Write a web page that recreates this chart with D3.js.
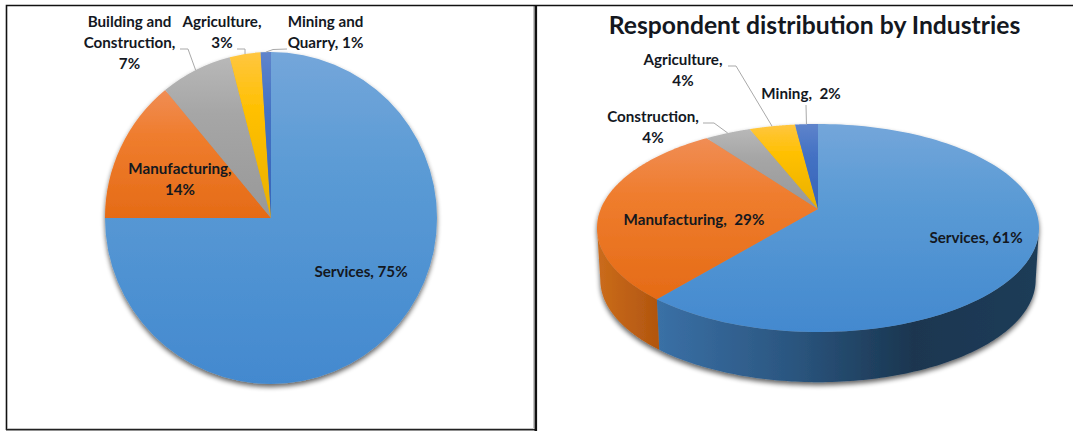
<!DOCTYPE html>
<html>
<head>
<meta charset="utf-8">
<script src="https://cdn.jsdelivr.net/npm/d3@7"></script>
<style>
html,body{margin:0;padding:0;background:#fff;overflow:hidden}
svg{display:block}
text{font-family:Lato,"Open Sans",sans-serif;font-weight:700;fill:#14181f;white-space:pre}
</style>
</head>
<body>
<svg id="chart" width="1073" height="431"></svg>
<script>
// Industry shares, clockwise from twelve o'clock
const flatCategories = ["Services", "Manufacturing", "Building and Construction", "Agriculture", "Mining and Quarry"];
const flatValues = [75, 14, 7, 3, 1];
const tiltedCategories = ["Services", "Manufacturing", "Construction", "Agriculture", "Mining"];
const tiltedValues = [61, 29, 4, 4, 2];
const tiltedTitle = "Respondent distribution by Industries";

// Gradient stops per slice: light top, base, dark bottom
const shades = [
  ["#74a6da", "#5b9bd5", "#4389cf"],
  ["#f08d55", "#ef7d2e", "#e56b16"],
  ["#b8b8b8", "#a6a6a6", "#989898"],
  ["#ffc640", "#ffc000", "#e9b000"],
  ["#5f84cb", "#4472c4", "#3764b8"]
];
// Side wall shading, written in screen order from left to right
const wallStops = [
  [[0, "#3a70a6"], [0.35, "#2b5680"], [0.67, "#1a3650"], [1, "#1f3c58"]],
  [[0, "#cb6c1b"], [1, "#b2560f"]]
];

// Label placement: text lines, anchor point, and the elbow of any leader line
const flatLabels = [
  {lines: ["Services, 75%"], x: 361, y: 277},
  {lines: ["Manufacturing,", "14%"], x: 180, y: 174},
  {lines: ["Building and", "Construction,", "7%"], x: 129.5, y: 27, leader: [[180, 49], [188, 49]]},
  {lines: ["Agriculture,", "3%"], x: 222, y: 27, leader: [[237, 49], [245, 49]]},
  {lines: ["Mining and", "Quarry, 1%"], x: 325.5, y: 27, leader: [[287, 49], [273, 49.5]]}
];
const tiltedLabels = [
  {lines: ["Services, 61%"], x: 976, y: 243},
  {lines: ["Manufacturing,  29%"], x: 694, y: 225},
  {lines: ["Construction,", "4%"], x: 653, y: 122, leader: [[703, 123], [714, 123]]},
  {lines: ["Agriculture,", "4%"], x: 683, y: 65, leader: [[728, 66], [736, 66]]},
  {lines: ["Mining,  2%"], x: 801, y: 99, leader: [[806, 105]]}
];

const svg = d3.select("#chart");
const defs = svg.append("defs");

function addSliceGradient(id, stops) {
  const g = defs.append("linearGradient").attr("id", id)
    .attr("x1", 0).attr("y1", 0).attr("x2", 0).attr("y2", 1);
  [0, 0.35, 1].forEach((o, i) => g.append("stop").attr("offset", o).attr("stop-color", stops[i]));
}
shades.forEach((s, i) => addSliceGradient("slice" + i, s));

const shadow = defs.append("filter").attr("id", "pieShadow")
  .attr("x", "-10%").attr("y", "-10%").attr("width", "120%").attr("height", "125%");
shadow.append("feGaussianBlur").attr("in", "SourceAlpha").attr("stdDeviation", 2.6).attr("result", "b");
shadow.append("feOffset").attr("in", "b").attr("dy", 3).attr("result", "o");
shadow.append("feComponentTransfer").attr("in", "o").attr("result", "s")
  .append("feFuncA").attr("type", "linear").attr("slope", 0.62);
const merge = shadow.append("feMerge");
merge.append("feMergeNode").attr("in", "s");
merge.append("feMergeNode").attr("in", "SourceGraphic");

const pieLayout = d3.pie().sort(null).value(d => d);

// Panel frames
const frame = svg.append("g");
frame.append("path").attr("d", "M7.5 428.5H533.5V6").attr("fill", "none").attr("stroke", "#c4c4c4").attr("stroke-width", 1);
frame.append("path").attr("d", "M6.5 430V5.5H1073").attr("fill", "none").attr("stroke", "#111").attr("stroke-width", 1.6);
frame.append("path").attr("d", "M6 429.7H536").attr("fill", "none").attr("stroke", "#222").attr("stroke-width", 1.6);
frame.append("path").attr("d", "M535.8 5V431").attr("fill", "none").attr("stroke", "#111").attr("stroke-width", 2.6);

function drawLabels(g, labels, size, anchors) {
  labels.forEach((l, i) => {
    if (l.leader) {
      g.append("path")
        .attr("d", d3.line()(l.leader.concat([anchors[i]])))
        .attr("fill", "none").attr("stroke", "#a9a9a9").attr("stroke-width", 1);
    }
    const t = g.append("text").attr("text-anchor", "middle").attr("font-size", size);
    l.lines.forEach((line, k) => {
      t.append("tspan").attr("x", l.x).attr("y", l.y + k * 21).text(line);
    });
  });
}

// Flat pie
{
  const cx = 271, cy = 218, r = 166;
  const arcs = pieLayout(flatValues);
  const arc = d3.arc().innerRadius(0).outerRadius(r);
  const g = svg.append("g").attr("transform", `translate(${cx},${cy})`);
  const slices = g.append("g").attr("filter", "url(#pieShadow)");
  slices.selectAll("path").data(arcs).join("path")
    .attr("d", arc)
    .attr("data-category", (d, i) => flatCategories[i])
    .attr("fill", (d, i) => `url(#slice${i})`);
  const anchors = arcs.map(a => {
    const m = (a.startAngle + a.endAngle) / 2;
    return [cx + Math.sin(m) * r, cy - Math.cos(m) * r];
  });
  drawLabels(svg.append("g"), flatLabels, 15.2, anchors);
}

// Tilted pie: a perspective projection of the unit circle, so the hub sits above the rim's centre
{
  const apexX = 818, apexY = 209;
  const backDepth = 85, frontDepth = 123, halfWidth = 221, wallDrop = 52, wallScale = 0.985;
  const c = (backDepth - frontDepth) / (backDepth + frontDepth);
  const a = frontDepth * (1 + c);
  const d = halfWidth * Math.sqrt(1 - c * c);
  const project = theta => {
    const u = Math.sin(theta), v = -Math.cos(theta);
    const w = 1 + c * v;
    return [u * d / w, a * v / w];
  };
  const rimSpan = (t0, t1) => d3.range(0, 121).map(i => t0 + (t1 - t0) * i / 120);
  const lower = t => {
    const p = project(t);
    return [p[0] * wallScale, p[1] * wallScale + wallDrop];
  };
  const line = d3.line();
  const arcs = pieLayout(tiltedValues);
  const g = svg.append("g").attr("transform", `translate(${apexX},${apexY})`);
  const whole = g.append("g").attr("filter", "url(#pieShadow)");

  // Side wall, only along the part of the rim that faces the viewer
  const frontStart = Math.acos(c), frontEnd = 2 * Math.PI - frontStart;
  arcs.forEach((s, i) => {
    const t0 = Math.max(s.startAngle, frontStart), t1 = Math.min(s.endAngle, frontEnd);
    if (t1 <= t0) return;
    const top = rimSpan(t0, t1).map(project);
    const bottom = rimSpan(t1, t0).map(lower);
    const xs = top.map(p => p[0]);
    const grad = defs.append("linearGradient").attr("id", "wall" + i)
      .attr("gradientUnits", "userSpaceOnUse")
      .attr("x1", d3.min(xs)).attr("x2", d3.max(xs)).attr("y1", 0).attr("y2", 0);
    wallStops[i].forEach(st => grad.append("stop").attr("offset", st[0]).attr("stop-color", st[1]));
    whole.append("path")
      .attr("d", line(top.concat(bottom)) + "Z")
      .attr("fill", `url(#wall${i})`);
  });

  // Top face
  whole.selectAll("path.top").data(arcs).join("path").attr("class", "top")
    .attr("d", s => line([[0, 0]].concat(rimSpan(s.startAngle, s.endAngle).map(project))) + "Z")
    .attr("data-category", (s, i) => tiltedCategories[i])
    .attr("fill", (s, i) => `url(#slice${i})`);

  const anchors = arcs.map(s => {
    const p = project((s.startAngle + s.endAngle) / 2);
    return [p[0] + apexX, p[1] + apexY];
  });
  drawLabels(svg.append("g"), tiltedLabels, 15.2, anchors);

  svg.append("text").attr("x", 814.5).attr("y", 34).attr("text-anchor", "middle")
    .attr("font-size", 24.7).text(tiltedTitle);
}
</script>
</body>
</html>
